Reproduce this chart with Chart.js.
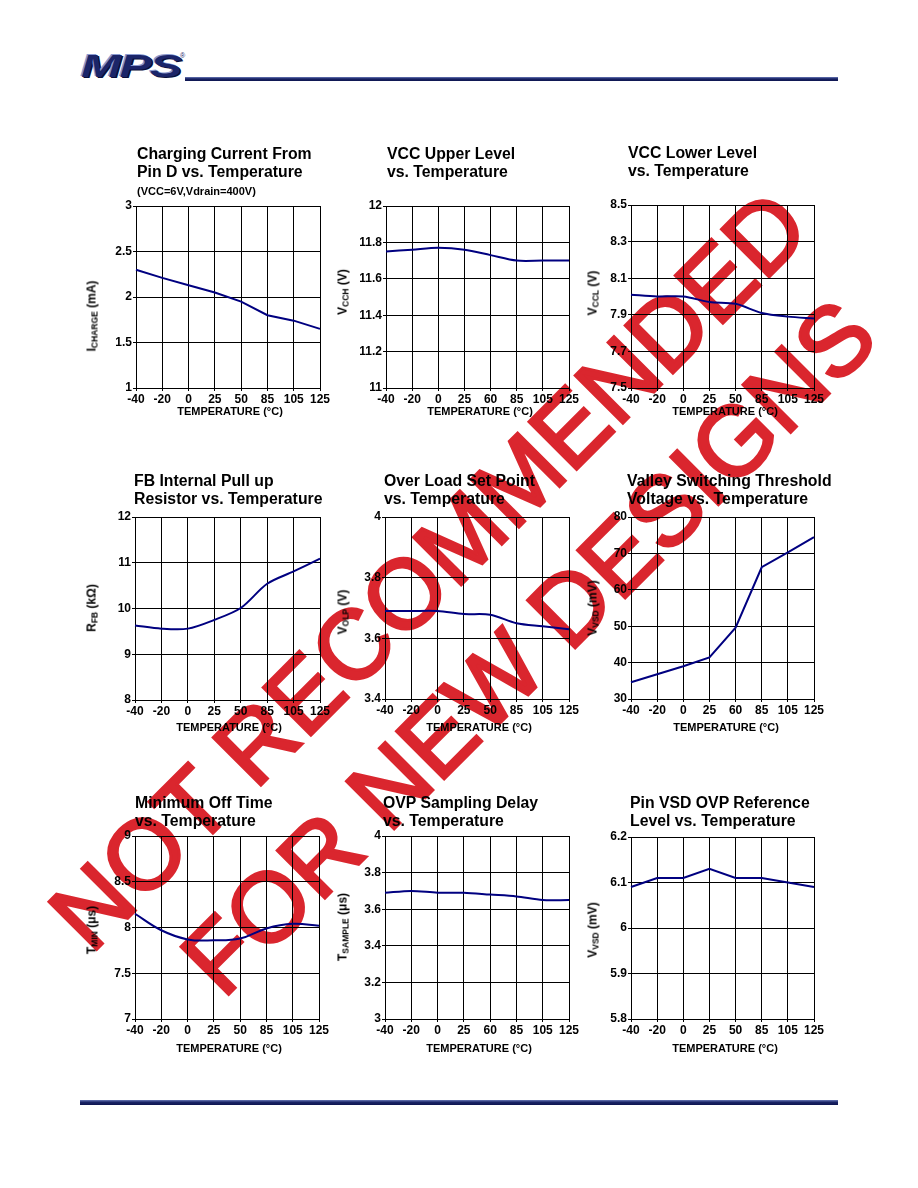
<!DOCTYPE html>
<html>
<head>
<meta charset="utf-8">
<script src="https://cdn.jsdelivr.net/npm/chart.js@4.4.1/dist/chart.umd.min.js"></script>
<style>
html,body{margin:0;padding:0;background:#fff;}
body{width:918px;height:1188px;position:relative;overflow:hidden;font-family:"Liberation Sans",Arial,sans-serif;color:#000;}
.wm{position:absolute;font-size:98px;line-height:98px;color:#da262e;-webkit-text-stroke:3px #da262e;white-space:nowrap;transform-origin:0 83px;transform:rotate(-45deg);z-index:0;}
.box{position:absolute;z-index:2;}
.ttl{position:absolute;z-index:2;font-weight:bold;font-size:15.8px;line-height:18px;white-space:nowrap;}
.ttl .note{font-size:11px;}
.xt{position:absolute;z-index:2;font-weight:bold;font-size:11px;white-space:nowrap;transform:translate(-50%,-50%);}
.yt{position:absolute;z-index:2;font-weight:bold;font-size:12px;white-space:nowrap;transform:translate(-50%,-50%) rotate(-90deg);}
.yt sub{font-size:8.5px;vertical-align:-2px;}
#logo{position:absolute;left:81px;top:51px;font-style:italic;font-weight:900;font-size:31px;line-height:31px;color:#1b2569;transform:scaleX(1.55);transform-origin:0 0;letter-spacing:-1px;text-shadow:-1px -1px 0 #8a9ad0,1px 1px 0 #0a0f3a;z-index:3;}
#reg{position:absolute;left:180px;top:52px;font-size:7px;color:#1b2569;z-index:3;}
#hline{position:absolute;left:185px;top:77px;width:653px;height:4px;background:linear-gradient(#6a7ab8,#1a2466 45%,#0e1550);z-index:3;}
#fline{position:absolute;left:80px;top:1100px;width:758px;height:5px;background:linear-gradient(#6a7ab8,#1a2466 45%,#0e1550);z-index:3;}
</style>
</head>
<body>
<div id="logo">MPS</div><div id="reg">®</div>
<div id="hline"></div>
<div id="fline"></div>
<div class="wm" style="left:91px;top:872px;">NOT RECOMMENDED</div>
<div class="wm" style="left:223px;top:917px;">FOR NEW DESIGNS</div>
<script>
// ---- data ----
const tempLabelsA = ['-40','-20','0','25','50','85','105','125'];
const tempLabelsB = ['-40','-20','0','25','60','85','105','125'];

const chargeCurrent = [2.30, 2.21, 2.13, 2.05, 1.95, 1.80, 1.74, 1.65];
const chargeTicks = [1, 1.5, 2, 2.5, 3];

const vccUpper = [11.75, 11.76, 11.77, 11.76, 11.73, 11.70, 11.70, 11.70];
const vccUpperTicks = [11, 11.2, 11.4, 11.6, 11.8, 12];

const vccLower = [8.01, 8.00, 8.00, 7.97, 7.96, 7.91, 7.89, 7.88];
const vccLowerTicks = [7.5, 7.7, 7.9, 8.1, 8.3, 8.5];

const fbPullUp = [9.63, 9.56, 9.56, 9.75, 10.01, 10.54, 10.81, 11.09];
const fbPullUpTicks = [8, 9, 10, 11, 12];

const overLoad = [3.69, 3.69, 3.69, 3.68, 3.678, 3.65, 3.64, 3.63];
const overLoadTicks = [3.4, 3.6, 3.8, 4];

const valleyThreshold = [34.6, 36.8, 39.0, 41.4, 49.6, 66.2, 70.3, 74.5];
const valleyTicks = [30, 40, 50, 60, 70, 80];

const minOffTime = [8.15, 7.97, 7.87, 7.86, 7.88, 7.99, 8.04, 8.02];
const minOffTicks = [7, 7.5, 8, 8.5, 9];

const ovpDelay = [3.69, 3.70, 3.69, 3.69, 3.68, 3.67, 3.65, 3.65];
const ovpDelayTicks = [3, 3.2, 3.4, 3.6, 3.8, 4];

const vsdOvpRef = [6.09, 6.11, 6.11, 6.13, 6.11, 6.11, 6.10, 6.09];
const vsdOvpTicks = [5.8, 5.9, 6, 6.1, 6.2];

// ---- layout ----
const FONT = '"Liberation Sans", Arial, sans-serif';
const charts = [
  {plot:[136,206,320,388], labels:tempLabelsA, data:chargeCurrent, ticks:chargeTicks, tension:0,
   title:['Charging Current From','Pin D vs. Temperature'], note:'(VCC=6V,Vdrain=400V)', tpos:[137,145],
   ytitle:'I<sub>CHARGE</sub> (mA)', ypos:[92,316], xpos:[230,410.5]},
  {plot:[386,206,569,388], labels:tempLabelsB, data:vccUpper, ticks:vccUpperTicks, tension:0.3,
   title:['VCC Upper Level','vs. Temperature'], tpos:[387,145],
   ytitle:'V<sub>CCH</sub> (V)', ypos:[343,292], xpos:[480,410.5]},
  {plot:[631,205,814,388], labels:tempLabelsA, data:vccLower, ticks:vccLowerTicks, tension:0.3,
   title:['VCC Lower Level','vs. Temperature'], tpos:[628,144],
   ytitle:'V<sub>CCL</sub> (V)', ypos:[593,293], xpos:[725,410.5]},
  {plot:[135,517,320,700], labels:tempLabelsA, data:fbPullUp, ticks:fbPullUpTicks, tension:0.3,
   title:['FB Internal Pull up','Resistor vs. Temperature'], tpos:[134,471.5],
   ytitle:'R<sub>FB</sub> (kΩ)', ypos:[92,608], xpos:[229,727]},
  {plot:[385,517,569,699], labels:tempLabelsA, data:overLoad, ticks:overLoadTicks, tension:0.3,
   title:['Over Load Set Point','vs. Temperature'], tpos:[384,471.5],
   ytitle:'V<sub>OLP</sub> (V)', ypos:[343,612], xpos:[479,727]},
  {plot:[631,517,814,699], labels:tempLabelsB, data:valleyThreshold, ticks:valleyTicks, tension:0,
   title:['Valley Switching Threshold','Voltage vs. Temperature'], tpos:[627,471.5],
   ytitle:'V<sub>VSD</sub> (mV)', ypos:[593,608], xpos:[726,727]},
  {plot:[135,836,319,1019], labels:tempLabelsA, data:minOffTime, ticks:minOffTicks, tension:0.4,
   title:['Minimum Off Time','vs. Temperature'], tpos:[135,793.5],
   ytitle:'T<sub>MIN</sub> (μs)', ypos:[92,930], xpos:[229,1048]},
  {plot:[385,836,569,1019], labels:tempLabelsB, data:ovpDelay, ticks:ovpDelayTicks, tension:0.3,
   title:['OVP Sampling Delay','vs. Temperature'], tpos:[383,793.5],
   ytitle:'T<sub>SAMPLE</sub> (μs)', ypos:[343,927], xpos:[479,1048]},
  {plot:[631,837,814,1019], labels:tempLabelsA, data:vsdOvpRef, ticks:vsdOvpTicks, tension:0,
   title:['Pin VSD OVP Reference','Level vs. Temperature'], tpos:[630,793.5],
   ytitle:'V<sub>VSD</sub> (mV)', ypos:[593,930], xpos:[725,1048]}
];

function addDiv(cls, html, x, y){
  const d = document.createElement('div');
  d.className = cls; d.innerHTML = html;
  d.style.left = x + 'px'; d.style.top = y + 'px';
  document.body.appendChild(d);
  return d;
}

function build(c){
  const YW = 44, PT = 10, PR = 16, XH = 24;
  const [l, t, r, b] = c.plot;
  const W = r - l + YW + PR, H = b - t + PT + XH;
  const box = document.createElement('div');
  box.className = 'box';
  box.style.left = (l - YW) + 'px'; box.style.top = (t - PT) + 'px';
  box.style.width = W + 'px'; box.style.height = H + 'px';
  const cv = document.createElement('canvas');
  cv.width = W; cv.height = H; cv.style.width = W + 'px'; cv.style.height = H + 'px';
  box.appendChild(cv); document.body.appendChild(box);

  const tickFont = {family: FONT, size: 12, weight: 'bold'};
  new Chart(cv, {
    type: 'line',
    data: {labels: c.labels, datasets: [{data: c.data, borderColor: '#000080', borderWidth: 2,
      pointRadius: 0, tension: c.tension, fill: false}]},
    options: {
      responsive: false, animation: false, devicePixelRatio: 1,
      layout: {padding: {left: 0, top: PT, right: PR, bottom: 0}},
      plugins: {legend: {display: false}, tooltip: {enabled: false}},
      scales: {
        x: {type: 'category', offset: false,
          grid: {color: '#000', lineWidth: 1, offset: false, drawTicks: true, tickLength: 3},
          border: {color: '#000', width: 1},
          ticks: {color: '#000', font: tickFont, padding: 1, maxRotation: 0, autoSkip: false},
          afterFit: s => { s.height = XH; }},
        y: {min: c.ticks[0], max: c.ticks[c.ticks.length - 1],
          grid: {color: '#000', lineWidth: 1, drawTicks: true, tickLength: 3},
          border: {color: '#000', width: 1},
          ticks: {color: '#000', font: tickFont, padding: 1, callback: v => String(v)},
          afterBuildTicks: s => { s.ticks = c.ticks.map(v => ({value: v})); },
          afterFit: s => { s.width = YW; }}
      }
    }
  });

  let th = c.title.join('<br>');
  if (c.note) th += '<br><span class="note">' + c.note + '</span>';
  addDiv('ttl', th, c.tpos[0], c.tpos[1]);
  addDiv('yt', c.ytitle, c.ypos[0], c.ypos[1]);
  addDiv('xt', 'TEMPERATURE (°C)', c.xpos[0], c.xpos[1]);
}

charts.forEach(build);
</script>
</body>
</html>
